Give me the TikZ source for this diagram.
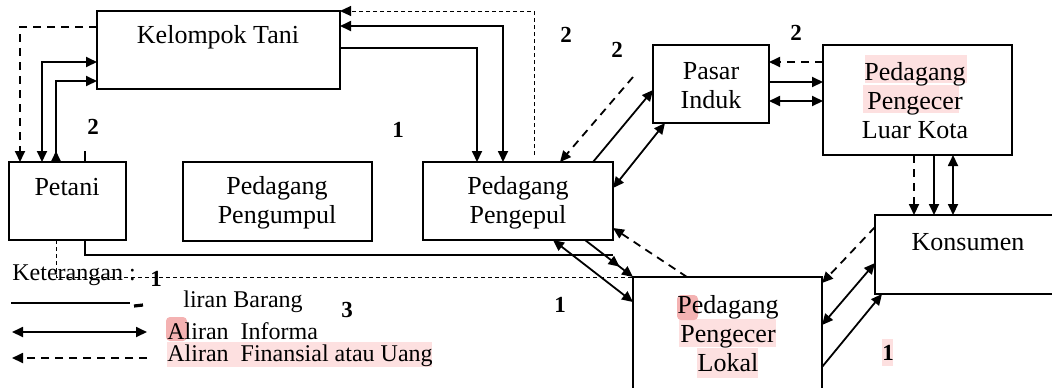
\documentclass[tikz,border=0pt]{standalone}
\usepackage{fontspec}
\setmainfont{Liberation Serif}
\usetikzlibrary{arrows.meta,calc,decorations.markings}
\definecolor{hl}{RGB}{253,224,224}
\definecolor{hldark}{RGB}{244,178,178}
\begin{document}
\begin{tikzpicture}[x=0.5pt,y=-0.5pt,
  >={Triangle[length=5.5pt,width=5pt]},
  box/.style={draw,line width=0.9pt,inner sep=0pt,outer sep=0pt},
  lbl/.style={font=\fontsize{13}{14.5}\selectfont,align=center,inner sep=0pt},
  num/.style={font=\fontsize{11.5}{12}\selectfont\bfseries,inner sep=0pt},
  leg/.style={font=\fontsize{12}{13}\selectfont,inner sep=0pt,anchor=west},
  goods/.style={line width=0.9pt,->},
  infoarr/.style={line width=0.9pt,<->},
  money/.style={line width=0.9pt,dash pattern=on 4pt off 3pt,->},
  thindash/.style={line width=0.5pt,dash pattern=on 2pt off 1.5pt},
  midarrow/.style={postaction={decorate,decoration={markings,mark=at position 0.72 with {\arrow{>}}}}}
]
\useasboundingbox (0,0) rectangle (1052,387);

% boxes
\node[box,minimum width=121.5pt,minimum height=39pt] (kt) at (218.5,50) {};
\node[box,minimum width=58.5pt,minimum height=39pt] (petani) at (67.5,201) {};
\node[box,minimum width=94.5pt,minimum height=39.5pt] (pengumpul) at (277.5,201.5) {};
\node[box,minimum width=95pt,minimum height=39pt] (pengepul) at (518,201) {};
\node[box,minimum width=58pt,minimum height=39pt] (pasar) at (711,84) {};
\node[box,minimum width=94.5pt,minimum height=55pt] (luar) at (917.5,100) {};
\node[box,minimum width=92.5pt,minimum height=39.5pt] (konsumen) at (967.5,254.5) {};
\node[box,minimum width=94.5pt,minimum height=59pt] (lokal) at (727.5,336) {};

% highlights
\fill[hl] (865,55) rectangle (967,83);
\fill[hl] (863,85) rectangle (959,113);
\fill[hl] (679,319) rectangle (776,347);
\fill[hl] (697,348) rectangle (758,378);
\fill[hldark,rounded corners=2pt] (677,295) rectangle (698,320);
\fill[hl] (882,339) rectangle (893,366);
\fill[hldark,rounded corners=2pt] (166,317) rectangle (187,341);
\fill[hl] (167,342) rectangle (432,367);

% texts
\node[lbl] (kttext) at (218,37) {Kelompok Tani};
\node[lbl] (petanitext) at (67,187) {Petani};
\node[lbl] (pengumpultext) at (277,203) {Pedagang\\Pengumpul};
\node[lbl] (pengepultext) at (518,203) {Pedagang\\Pengepul};
\node[lbl] (pasartext) at (711,86) {Pasar\\Induk};
\node[lbl] (luartext) at (915,101) {Pedagang\\Pengecer\\Luar Kota};
\node[lbl] (konsumentext) at (968,242) {Konsumen};
\node[lbl] (lokaltext) at (728,334) {Pedagang\\Pengecer\\Lokal};

% numbers
\node[num] (n1) at (93,127) {2};
\node[num] (n2) at (398,130) {1};
\node[num] (n3) at (566,35) {2};
\node[num] (n4) at (617,50) {2};
\node[num] (n5) at (796,33) {2};
\node[num] (n6) at (156,279) {1};
\node[num] (n7) at (347,310) {3};
\node[num] (n8) at (560,305) {1};
\node[num] (n9) at (888,353) {1};

% legend
\node[leg] (ket) at (12,275) {Keterangan :};
\node[leg] (legbarang) at (183,302) {liran Barang};
\node[leg] (leginfo) at (167,331) {Aliran\ \ Informa};
\node[leg] (legfin) at (167,356) {Aliran\ \ Finansial atau Uang};
\coordinate (l1a) at (11,303); \coordinate (l1b) at (130,303);
\draw[line width=0.9pt] (l1a) -- (l1b);
\coordinate (l1c) at (134,306); \coordinate (l1d) at (143,305);
\draw[line width=1.6pt] (l1c) -- (l1d);
\coordinate (l2a) at (12,332); \coordinate (l2b) at (147,332);
\draw[infoarr] (l2a) -- (l2b);
\coordinate (l3a) at (12,358); \coordinate (l3b) at (147,358);
\draw[money] (l3b) -- (l3a);

% Kelompok Tani - Petani
\draw[money] ($(kt.north west)+(0,16)$) -| ($(petani.north west)+(11,0)$);
\draw[infoarr] ($(petani.north west)+(33,0)$) |- ($(kt.north west)+(0,51)$);
\draw[line width=0.9pt,{Triangle[length=5.5pt,width=5pt,reversed]}->] ($(petani.north west)+(47,0)$) |- ($(kt.north west)+(0,70)$);
\draw[line width=0.9pt] ($(petani.north west)+(76,0)$) -- ++(0,-11);

% Petani bottom
\draw[thindash] ($(petani.south west)+(47,0)$) |- (lokal.north west);
\draw[line width=0.9pt] ($(petani.south west)+(76,0)$) |- ($(pengepul.south east)+(0,15)$);

% Pengepul - Kelompok Tani
\draw[goods] ($(kt.north east)+(0,37)$) -| ($(pengepul.north west)+(54,0)$);
\draw[infoarr] ($(pengepul.north west)+(80,0)$) |- ($(kt.north east)+(0,15)$);
\draw[thindash,->] ($(pengepul.north west)+(111,-7)$) |- (kt.north east);

% Pengepul - Pasar Induk
\draw[goods] ($(pengepul.north west)+(170,0)$) -- ($(pasar.north west)+(0,45)$);
\draw[infoarr] ($(pengepul.north east)+(0,26)$) -- ($(pasar.south west)+(12,0)$);
\coordinate (pdstart) at (633,77);
\draw[money] (pdstart) -- ($(pengepul.north west)+(137,0)$);

% Pasar Induk - Luar Kota
\draw[money] ($(luar.north west)+(0,17)$) -- ($(pasar.north east)+(0,17)$);
\draw[goods] ($(pasar.north east)+(0,37)$) -- ($(luar.north west)+(0,37)$);
\draw[infoarr] ($(pasar.north east)+(0,56)$) -- ($(luar.north west)+(0,56)$);

% Luar Kota - Konsumen
\draw[money] ($(luar.south west)+(91,0)$) -- ($(konsumen.north west)+(39,0)$);
\draw[goods] ($(luar.south west)+(111,0)$) -- ($(konsumen.north west)+(59,0)$);
\draw[infoarr] ($(luar.south west)+(130,0)$) -- ($(konsumen.north west)+(78,0)$);

% Konsumen - Lokal
\draw[money] ($(konsumen.north west)+(0,12)$) -- ($(lokal.north east)+(0,6)$);
\draw[infoarr] ($(konsumen.north west)+(0,48)$) -- ($(lokal.north east)+(0,48)$);
\draw[goods] ($(lokal.north east)+(0,90)$) -- ($(konsumen.south west)+(7,0)$);

% Pengepul - Lokal
\draw[money] ($(lokal.north west)+(54,0)$) -- ($(pengepul.north east)+(0,66)$);
\draw[infoarr] ($(pengepul.south west)+(130,0)$) -- ($(lokal.north west)+(0,25)$);
\draw[goods,midarrow] ($(pengepul.south west)+(162,0)$) -- (lokal.north west);
\end{tikzpicture}
\end{document}
